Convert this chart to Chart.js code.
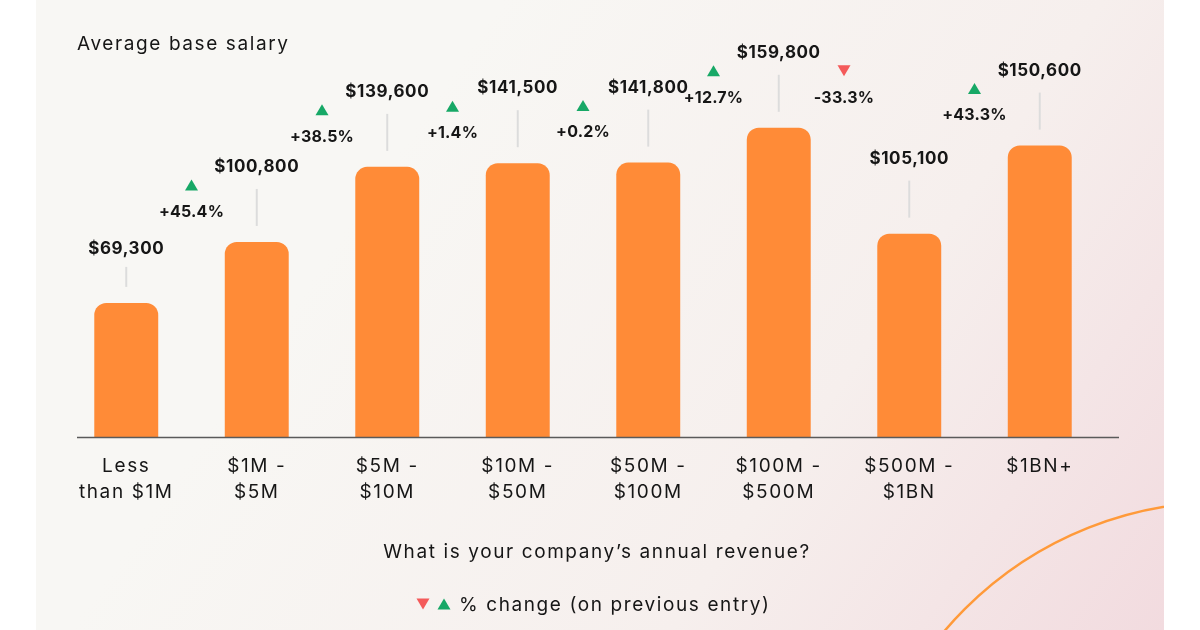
<!DOCTYPE html>
<html>
<head>
<meta charset="utf-8">
<script src="https://cdn.jsdelivr.net/npm/chart.js@4.4.1/dist/chart.umd.min.js"></script>
<style>
  html, body { margin: 0; padding: 0; background: #fff; }
  #wrap { width: 1200px; height: 630px; }
</style>
</head>
<body>
<div id="wrap"><canvas id="salaryChart" width="1200" height="630"></canvas></div>
<script>
// data
const revenueBands = [
  ["Less", "than $1M"], ["$1M -", "$5M"], ["$5M -", "$10M"], ["$10M -", "$50M"],
  ["$50M -", "$100M"], ["$100M -", "$500M"], ["$500M -", "$1BN"], ["$1BN+"]
];
const avgSalary = [69300, 100800, 139600, 141500, 141800, 159800, 105100, 150600];
const pctChange = [null, 45.4, 38.5, 1.4, 0.2, 12.7, -33.3, 43.3];
const yMax = 200000;

const FONT = "Inter, 'Open Sans', sans-serif";
const ORANGE = '#ff8b37';
const GREEN = '#17a866';
const RED = '#f45a5a';
const INK = '#161616';

function tri(ctx, x, y, up, color) {
  ctx.fillStyle = color;
  ctx.beginPath();
  if (up) {
    ctx.moveTo(x - 6.5, y + 5.5); ctx.lineTo(x + 6.5, y + 5.5); ctx.lineTo(x, y - 5.5);
  } else {
    ctx.moveTo(x - 6.5, y - 5.5); ctx.lineTo(x + 6.5, y - 5.5); ctx.lineTo(x, y + 5.5);
  }
  ctx.closePath();
  ctx.fill();
}

const backdrop = {
  id: 'backdrop',
  beforeDraw(chart) {
    const ctx = chart.ctx;
    ctx.save();
    ctx.fillStyle = '#fff';
    ctx.fillRect(0, 0, chart.width, chart.height);
    const g = ctx.createLinearGradient(420, 120, 1164, 630);
    g.addColorStop(0, '#f8f7f4');
    g.addColorStop(0.55, '#f6efed');
    g.addColorStop(1, '#f2dbdf');
    ctx.fillStyle = g;
    ctx.fillRect(36, 0, 1128, chart.height);
    // orange arc, clipped to the panel
    ctx.beginPath();
    ctx.rect(36, 0, 1128, chart.height);
    ctx.clip();
    ctx.strokeStyle = '#ff9a3a';
    ctx.lineWidth = 2.5;
    ctx.beginPath();
    ctx.arc(1223, 867, 365, 0, Math.PI * 2);
    ctx.stroke();
    ctx.restore();
    // wider spacing so the tick labels read closer to the original typeface
    ctx.letterSpacing = '1.6px';
  }
};

const annotations = {
  id: 'annotations',
  afterDatasetsDraw(chart) {
    const ctx = chart.ctx;
    const bars = chart.getDatasetMeta(0).data;
    const base = chart.scales.y.getPixelForValue(0);
    ctx.save();

    // baseline
    ctx.strokeStyle = '#5a5a5a';
    ctx.lineWidth = 1.5;
    ctx.beginPath();
    ctx.moveTo(77, base + 0.5);
    ctx.lineTo(1119, base + 0.5);
    ctx.stroke();

    ctx.textAlign = 'center';
    ctx.textBaseline = 'middle';
    bars.forEach((bar, i) => {
      const len = i === 0 ? 20 : 37;
      const lineBottom = bar.y - 16;
      const lineTop = lineBottom - len;
      ctx.strokeStyle = '#dcdcdc';
      ctx.lineWidth = 2;
      ctx.beginPath();
      ctx.moveTo(bar.x, lineBottom);
      ctx.lineTo(bar.x, lineTop);
      ctx.stroke();
      ctx.fillStyle = INK;
      ctx.font = "bold 17px " + FONT;
      ctx.letterSpacing = '0.6px';
      ctx.fillText('$' + avgSalary[i].toLocaleString('en-US'), bar.x, lineTop - (i === 0 ? 18 : 22));

      if (pctChange[i] !== null && i > 0) {
        const prev = bars[i - 1];
        const x = (prev.x + bar.x) / 2;
        const y = Math.min(prev.y, bar.y) - 30;
        const up = pctChange[i] >= 0;
        ctx.fillStyle = INK;
        ctx.font = "bold 16px " + FONT;
        ctx.letterSpacing = '0.2px';
        ctx.fillText((up ? '+' : '-') + Math.abs(pctChange[i]).toFixed(1) + '%', x, y);
        tri(ctx, x, y - 27, up, up ? GREEN : RED);
      }
    });

    // heading, axis title, legend
    ctx.font = "19px " + FONT;
    ctx.letterSpacing = '1.6px';
    ctx.fillStyle = INK;
    ctx.textAlign = 'left';
    ctx.fillText('Average base salary', 77, 44);
    ctx.textAlign = 'center';
    ctx.fillText('What is your company\u2019s annual revenue?', 597, 552);
    tri(ctx, 423, 604, false, RED);
    tri(ctx, 444, 604, true, GREEN);
    ctx.fillStyle = INK;
    ctx.textAlign = 'left';
    ctx.fillText('% change (on previous entry)', 459, 605);
    ctx.restore();
  }
};

const ctx = document.getElementById('salaryChart').getContext('2d');
new Chart(ctx, {
  type: 'bar',
  data: {
    labels: revenueBands,
    datasets: [{
      data: avgSalary,
      backgroundColor: ORANGE,
      borderRadius: { topLeft: 12, topRight: 12 },
      borderSkipped: 'bottom',
      categoryPercentage: 0.49,
      barPercentage: 1
    }]
  },
  options: {
    responsive: false,
    animation: false,
    devicePixelRatio: 1,
    layout: { padding: { left: 61, right: 95, top: 50, bottom: 0 } },
    plugins: { legend: { display: false }, tooltip: { enabled: false } },
    scales: {
      y: { display: false, min: 0, max: yMax },
      x: {
        grid: { display: false },
        border: { display: false },
        afterFit(scale) { scale.height = 193; },
        ticks: {
          color: INK,
          font: { family: FONT, size: 19, lineHeight: 1.37 },
          padding: 8,
          maxRotation: 0,
          autoSkip: false
        }
      }
    }
  },
  plugins: [backdrop, annotations]
});
</script>
</body>
</html>
